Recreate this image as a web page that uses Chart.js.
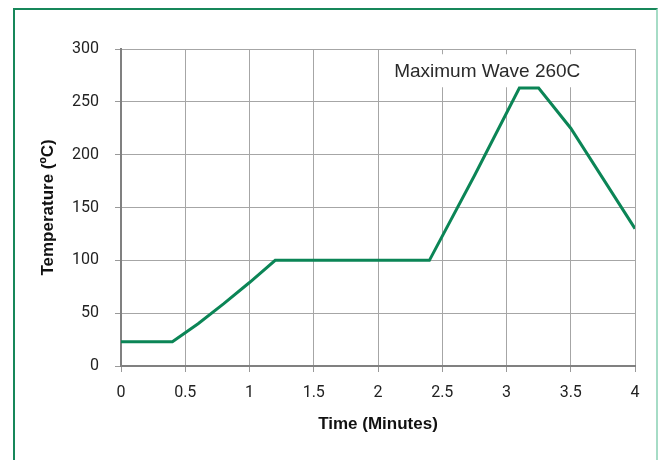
<!DOCTYPE html>
<html>
<head>
<meta charset="utf-8">
<script src="https://cdn.jsdelivr.net/npm/chart.js@4"></script>
<style>
  html, body { margin: 0; padding: 0; background: #fff; }
  #wrap { position: relative; width: 659px; height: 460px; }
  #frame { position: absolute; left: 13px; top: 8px; width: 641px; height: 470px;
           border-left: 2px solid #17875a; border-top: 2px solid #17875a; border-right: 2px solid #a6dcc6; }
  canvas { position: absolute; left: 0; top: 0; }
</style>
</head>
<body>
<div id="wrap">
  <div id="frame"></div>
  <canvas id="c" width="659" height="460"></canvas>
</div>
<script>
const timeMinutes = [0, 0.4, 0.6, 0.8, 1.0, 1.2, 2.4, 2.75, 3.1, 3.25, 3.5, 4.0];
const temperatureC = [23, 23, 40, 59, 79, 100, 100, 180, 263, 263, 225, 130];
const xTicks = [0, 0.5, 1, 1.5, 2, 2.5, 3, 3.5, 4];
const yTicks = [0, 50, 100, 150, 200, 250, 300];
const annotationText = "Maximum Wave 260C";
const annotationAt = { x: 2.85, y: 278 };

const tickFont = { family: "'Liberation Sans Narrow', 'Roboto', sans-serif", size: 16 };
const titleFont = { family: "'Liberation Sans', Arial, sans-serif", size: 17, weight: 'bold' };

const annotationPlugin = {
  id: 'annot',
  beforeDatasetsDraw(chart) {
    const { ctx, scales } = chart;
    const x = scales.x.getPixelForValue(annotationAt.x);
    const y = scales.y.getPixelForValue(annotationAt.y);
    ctx.save();
    ctx.font = "19px 'Liberation Sans', Arial, sans-serif";
    const w = ctx.measureText(annotationText).width;
    ctx.fillStyle = '#ffffff';
    ctx.fillRect(x - w / 2 - 6, y - 18, w + 12, 33);
    ctx.fillStyle = '#2a2a2a';
    ctx.textAlign = 'center';
    ctx.textBaseline = 'middle';
    ctx.fillText(annotationText, x, y);
    ctx.restore();
  }
};

new Chart(document.getElementById('c'), {
  type: 'line',
  data: {
    datasets: [{
      data: timeMinutes.map((t, i) => ({ x: t, y: temperatureC[i] })),
      borderColor: '#0b8556',
      borderWidth: 3,
      pointRadius: 0,
      tension: 0,
      fill: false
    }]
  },
  options: {
    responsive: false,
    animation: false,
    devicePixelRatio: 1,
    layout: { padding: { top: 49, right: 24, left: 0, bottom: 0 } },
    plugins: { legend: { display: false }, tooltip: { enabled: false } },
    scales: {
      x: {
        type: 'linear',
        min: 0, max: 4,
        afterBuildTicks(scale) { scale.ticks = xTicks.map(v => ({ value: v })); },
        afterFit(scale) { scale.height = 94; },
        ticks: { font: tickFont, color: '#222', padding: 11, maxRotation: 0,
                 callback: v => String(v) },
        grid: { color: '#a6a6a6', lineWidth: 1, tickLength: 6, tickColor: '#999' },
        border: { color: '#808080', width: 2 },
        title: { display: true, text: 'Time (Minutes)', font: titleFont, color: '#111',
                 padding: { top: 0, bottom: 25 } }
      },
      y: {
        min: 0, max: 300,
        afterBuildTicks(scale) { scale.ticks = yTicks.map(v => ({ value: v })); },
        afterFit(scale) { scale.width = 121; },
        ticks: { font: tickFont, color: '#222', padding: 16 },
        grid: { color: '#a6a6a6', lineWidth: 1, tickLength: 6, tickColor: '#999' },
        border: { color: '#808080', width: 2 },
        title: { display: true, text: 'Temperature (ºC)', font: titleFont, color: '#111',
                 padding: { top: 38, bottom: 0 } }
      }
    }
  },
  plugins: [annotationPlugin]
});
</script>
</body>
</html>
